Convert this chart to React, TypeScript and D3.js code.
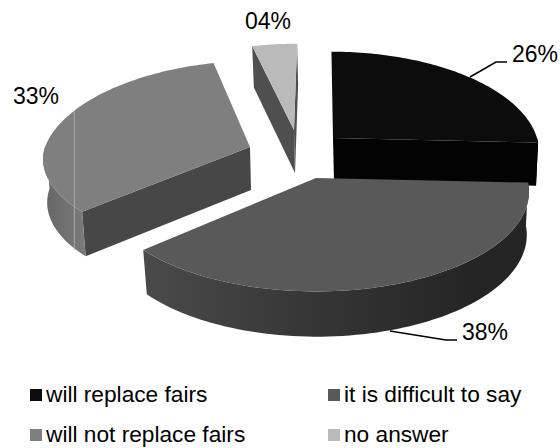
import React from "react";
import * as d3 from "d3";

const categories = ["will replace fairs", "it is difficult to say", "will not replace fairs", "no answer"];
const shares = [26, 38, 33, 4];
const topColors = ["#0c0c0c", "#595959", "#7f7f7f", "#bababa"];
const faceColors = ["#030303", "#474747", "#474747", "#4f4f4f"];
const wallColors = ["#050505", "url(#wallDark)", "url(#wallMid)", "#a0a0a0"];

// Each slice is pulled away from the centre, so each has its own pivot and width.
const pivots: [number, number][] = [[333, 138], [316, 178], [250, 147], [294, 130]];
const radiiX = [204, 211, 205, 206];
// Vertical squash applied to the near half of each slice.
const nearSquash = [1, 1, 0.9, 1];
// Slices are painted back to front.
const paintOrder = [3, 2, 0, 1];

const RY = 98;
const PERSPECTIVE = 0.136;
const VANISH_X = 320;
const FLOOR_SHRINK = 0.985;

type Pt = [number, number];

function project(index: number, angle: number, radius: number, floor: boolean): Pt {
  const pivot = pivots[index];
  const u = Math.sin(angle) * radius;
  const v = -Math.cos(angle) * radius;
  const s = 1 / (1 - PERSPECTIVE * v);
  const k = floor ? FLOOR_SHRINK : 1;
  // The far half of the disc leans toward the vanishing point.
  const lean = v < 0 ? (pivot[0] - VANISH_X) * (s - 1) : 0;
  const squash = v > 0 ? nearSquash[index] : 1;
  const depth = 43 + 25 * (s - 1);
  return [
    pivot[0] + lean + radiiX[index] * u * s * k + (floor ? 1 : 0),
    pivot[1] + RY * v * s * k * squash + (floor ? depth : 0),
  ];
}

const shoelace = (p: Pt[]) =>
  d3.sum(p, (a, i) => {
    const b = p[(i + 1) % p.length];
    return a[0] * b[1] - b[0] * a[1];
  });

const outline = d3.line<Pt>().x((d) => d[0]).y((d) => d[1]);
const closed = (p: Pt[]) => outline(p) + "Z";

const pieLayout = d3.pie<number>().sort(null).value((d) => d);
const arcs = pieLayout(shares);

const arcSamples = (a0: number, a1: number) =>
  d3.range(0, 81).map((i) => a0 + ((a1 - a0) * i) / 80);

function Slice({ index }: { index: number }) {
  const arc = arcs[index];
  const angles = arcSamples(arc.startAngle, arc.endAngle);
  const rim = angles.map((a) => project(index, a, 1, false));
  const centre = project(index, 0, 0, false);
  const centreLow = project(index, 0, 0, true);

  const first = rim[0];
  const last = rim[rim.length - 1];
  const startFace: Pt[] = [centre, first, project(index, angles[0], 1, true), centreLow];
  const endFace: Pt[] = [centre, last, project(index, angles[80], 1, true), centreLow];

  // Only the near half of the outer wall can be seen.
  const nearAngles = angles.filter((a) => Math.cos(a) <= 0.02);
  const wall: Pt[] = [
    ...nearAngles.map((a) => project(index, a, 1, false)),
    ...nearAngles.map((a) => project(index, a, 1, true)).reverse(),
  ];
  const top: Pt[] = [centre, ...rim];

  return (
    <g>
      {shoelace(startFace) < 0 && <path d={closed(startFace)} fill={faceColors[index]} />}
      {shoelace(endFace) > 0 && <path d={closed(endFace)} fill={faceColors[index]} />}
      {wall.length > 0 && <path d={closed(wall)} fill={wallColors[index]} />}
      <path d={closed(top)} fill={topColors[index]} />
    </g>
  );
}

const FONT = "'Liberation Sans', Arial, sans-serif";
const LABEL_SIZE = 23;
const LEGEND_SIZE = 22.7;

const labelPositions: Pt[] = [[512, 62], [462, 340], [13, 104], [245, 29]];
const leaders: Pt[][] = [
  [[470, 77], [496, 62], [507, 62]],
  [[390, 331], [446, 340], [457, 340]],
];

const legendX = d3.scaleOrdinal<number, number>().domain([0, 1]).range([30, 328]);
const legendY = d3.scaleOrdinal<number, number>().domain([0, 1]).range([389, 429]);

export default function App() {
  const creaseTop = project(2, (293 * Math.PI) / 180, 1, false);
  const creaseEnd: Pt = [creaseTop[0], 250];

  return (
    <svg
      width={560}
      height={448}
      viewBox="0 0 560 448"
      style={{ position: "absolute", left: 0, top: 0, background: "#fff" }}
    >
      <defs>
        <linearGradient id="wallDark" gradientUnits="userSpaceOnUse" x1={146} x2={470} y1={0} y2={0}>
          <stop offset="0" stopColor="#4a4a4a" />
          <stop offset="0.5" stopColor="#363636" />
          <stop offset="1" stopColor="#252525" />
        </linearGradient>
        <linearGradient id="wallMid" gradientUnits="userSpaceOnUse" x1={45} x2={84} y1={0} y2={0}>
          <stop offset="0" stopColor="#666666" />
          <stop offset="1" stopColor="#7a7a7a" />
        </linearGradient>
      </defs>

      {paintOrder.map((i) => (
        <Slice key={categories[i]} index={i} />
      ))}

      <line
        x1={creaseTop[0]}
        y1={creaseTop[1]}
        x2={creaseEnd[0]}
        y2={creaseEnd[1]}
        stroke="#b4b4b4"
        strokeWidth={0.8}
      />

      {leaders.map((pts, i) => (
        <path key={i} d={outline(pts) ?? ""} fill="none" stroke="#000" strokeWidth={1.5} />
      ))}

      {shares.map((v, i) => (
        <text
          key={categories[i]}
          x={labelPositions[i][0]}
          y={labelPositions[i][1]}
          fontFamily={FONT}
          fontSize={LABEL_SIZE}
          fill="#000"
        >
          {`${String(v).padStart(2, "0")}%`}
        </text>
      ))}

      {categories.map((c, i) => {
        const col = i % 2;
        const row = Math.floor(i / 2);
        return (
          <g key={c}>
            <rect x={legendX(col)} y={legendY(row)} width={12} height={12} fill={topColors[i]} />
            <text x={legendX(col) + 16} y={legendY(row) + 13} fontFamily={FONT} fontSize={LEGEND_SIZE} fill="#000">
              {c}
            </text>
          </g>
        );
      })}
    </svg>
  );
}
